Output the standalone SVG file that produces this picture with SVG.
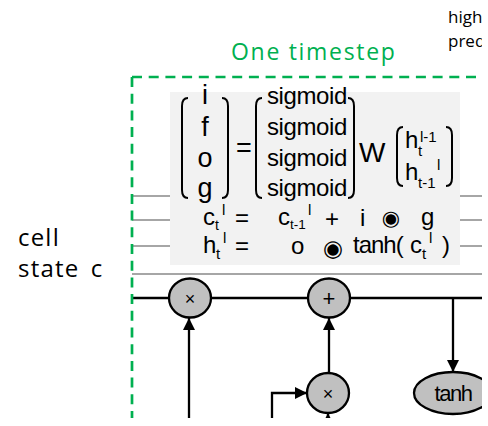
<svg xmlns="http://www.w3.org/2000/svg" width="488" height="426" viewBox="0 0 488 426">
<style>
.lbl{font-family:"Open Sans","Noto Sans",sans-serif;}
.m{font-family:"Liberation Sans",Arial,sans-serif;fill:#000;}
.gl{stroke:#a6a6a6;stroke-width:2;fill:none;}
.bk{stroke:#000;stroke-width:2.3;fill:none;}
.br{stroke:#000;stroke-width:2;fill:none;}
.node{fill:#c0c0c0;stroke:#000;stroke-width:2.3;}
</style>
<defs>
<clipPath id="clip"><rect x="0" y="0" width="482" height="418"/></clipPath>
<marker id="ah" markerUnits="userSpaceOnUse" markerWidth="12" markerHeight="12" refX="12" refY="6" orient="auto"><path d="M0,0 L12,6 L0,12 Z" fill="#000"/></marker>
</defs>
<rect width="488" height="426" fill="#fff"/>
<g clip-path="url(#clip)">
<text class="lbl" x="448" y="23" font-size="17" fill="#000">high</text>
<text class="lbl" x="448" y="47" font-size="17" fill="#000">pred</text>
<text class="lbl" x="231" y="60" font-size="23" fill="#00b050" letter-spacing="1.7">One timestep</text>
<text class="lbl" x="18" y="246" font-size="24" fill="#000" letter-spacing="1.2">cell</text>
<text class="lbl" x="18" y="277" font-size="24" fill="#000" letter-spacing="1.2" word-spacing="4">state c</text>

<g id="gray-lines">
<line class="gl" x1="132" y1="196" x2="482" y2="196"/>
<line class="gl" x1="132" y1="220" x2="482" y2="220"/>
<line class="gl" x1="132" y1="246" x2="482" y2="246"/>
<line class="gl" x1="132" y1="274" x2="482" y2="274"/>
</g>

<g id="formula">
<rect x="170" y="92" width="290" height="173" fill="#f2f2f2"/>
<path class="br" d="M188,98 Q182,98 182,106 V190 Q182,198 188,198"/>
<path class="br" d="M222,98 Q228,98 228,106 V190 Q228,198 222,198"/>
<g class="m" font-size="27" text-anchor="middle">
<text x="205" y="104">i</text>
<text x="205" y="136">f</text>
<text x="205" y="167">o</text>
<text x="205" y="197">g</text>
</g>
<text class="m" x="236" y="157" font-size="27">=</text>
<path class="br" d="M262,98 Q256,98 256,106 V190 Q256,198 262,198"/>
<path class="br" d="M348,98 Q354,98 354,106 V190 Q354,198 348,198"/>
<g class="m" font-size="24" letter-spacing="-0.4">
<text x="267" y="104">sigmoid</text>
<text x="267" y="135">sigmoid</text>
<text x="267" y="166">sigmoid</text>
<text x="267" y="196">sigmoid</text>
</g>
<text class="m" x="359" y="162" font-size="28">W</text>
<path class="br" d="M403,127 Q397,127 397,135 V178 Q397,186 403,186"/>
<path class="br" d="M446,127 Q452,127 452,135 V178 Q452,186 446,186"/>
<text class="m" x="405" y="148" font-size="24">h</text>
<text class="m" x="420" y="142" font-size="15">l-1</text>
<text class="m" x="418" y="156" font-size="15">t</text>
<text class="m" x="405" y="180" font-size="24">h</text>
<text class="m" x="418" y="188" font-size="15">t-1</text>
<text class="m" x="437" y="170" font-size="15">l</text>

<text class="m" x="203" y="225" font-size="24">c</text>
<text class="m" x="215" y="230" font-size="14">t</text>
<text class="m" x="222" y="215" font-size="15">l</text>
<text class="m" x="235" y="226" font-size="24">=</text>
<text class="m" x="278" y="225" font-size="24">c</text>
<text class="m" x="290" y="229" font-size="13.5">t-1</text>
<text class="m" x="308" y="215" font-size="15">l</text>
<text class="m" x="325" y="227" font-size="24">+</text>
<text class="m" x="360" y="226" font-size="24">i</text>
<text x="391" y="225" font-size="21" font-family="DejaVu Sans,sans-serif" text-anchor="middle">◉</text>
<text class="m" x="421" y="225" font-size="24">g</text>

<text class="m" x="203" y="253" font-size="24">h</text>
<text class="m" x="216" y="259" font-size="15">t</text>
<text class="m" x="223" y="243" font-size="15">l</text>
<text class="m" x="235" y="254" font-size="24">=</text>
<text class="m" x="291" y="254" font-size="24">o</text>
<text x="333" y="256" font-size="23" font-family="DejaVu Sans,sans-serif" text-anchor="middle">◉</text>
<text class="m" x="353" y="253" font-size="24" letter-spacing="-1">tanh(</text>
<text class="m" x="410" y="253" font-size="24">c</text>
<text class="m" x="422" y="259" font-size="15">t</text>
<text class="m" x="429" y="243" font-size="15">l</text>
<text class="m" x="442" y="253" font-size="24">)</text>
</g>

<g id="connectors">
<line class="bk" x1="132" y1="298" x2="482" y2="298"/>
<line class="bk" x1="189" y1="420" x2="189" y2="318" marker-end="url(#ah)"/>
<line class="bk" x1="329" y1="373" x2="329" y2="318" marker-end="url(#ah)"/>
<line class="bk" x1="453" y1="298" x2="453" y2="372" marker-end="url(#ah)"/>
<polyline class="bk" points="272,420 272,393 307,393" marker-end="url(#ah)"/>
<line class="bk" x1="328" y1="440" x2="328" y2="413" marker-end="url(#ah)"/>
</g>

<g id="node-mul1">
<ellipse class="node" cx="190" cy="298" rx="21" ry="19.5"/>
<text class="m" x="190" y="305" font-size="18" text-anchor="middle">×</text>
</g>
<g id="node-add">
<ellipse class="node" cx="329" cy="298" rx="21" ry="19.5"/>
<text class="m" x="329" y="306" font-size="22" text-anchor="middle">+</text>
</g>
<g id="node-mul2">
<ellipse class="node" cx="328" cy="393" rx="21" ry="20"/>
<text class="m" x="328" y="400" font-size="18" text-anchor="middle">×</text>
</g>
<g id="node-tanh">
<ellipse class="node" cx="453" cy="393" rx="39" ry="21"/>
<text class="m" x="453" y="401" font-size="22" text-anchor="middle" letter-spacing="-1.5">tanh</text>
</g>

<path d="M132,77 H482" stroke="#00b050" stroke-width="2.7" stroke-dasharray="10,6.7" fill="none"/>
<path d="M132,77 V418" stroke="#00b050" stroke-width="2.7" stroke-dasharray="10,6.7" fill="none"/>
</g>
</svg>
